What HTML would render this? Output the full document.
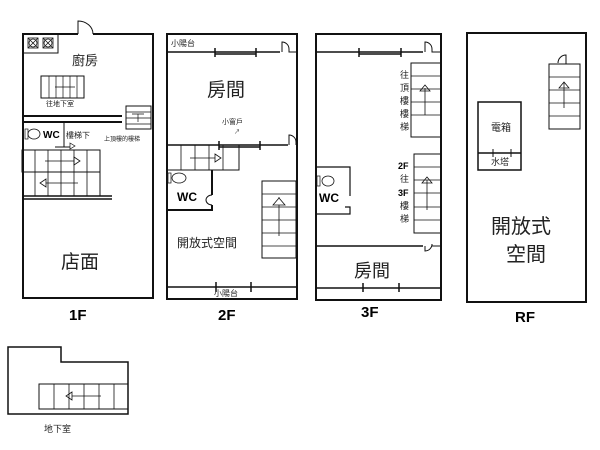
<!DOCTYPE html>
<html><head><meta charset="utf-8"><style>
html,body{margin:0;padding:0;background:#fff}
svg{display:block}
text{font-family:"Liberation Sans","Noto Sans CJK TC",sans-serif;fill:#222}
.b{font-weight:bold;fill:#000}
</style></head><body>
<svg width="600" height="450" viewBox="0 0 600 450" xmlns="http://www.w3.org/2000/svg" fill="none" stroke="#111" stroke-width="1">
<!-- 1F -->
<g>
<path d="M78 34 H23 V298 H153 V34 H93" stroke-width="2"/>
<path d="M78 34 V21 A15 13 0 0 1 93 34" />
<rect x="23" y="34" width="35" height="19"/>
<g stroke-width="0.8"><rect x="28" y="38" width="10" height="10"/><path d="M28 38 L38 48 M38 38 L28 48"/><circle cx="33" cy="43" r="4"/>
<rect x="43" y="38" width="10" height="10"/><path d="M43 38 L53 48 M53 38 L43 48"/><circle cx="48" cy="43" r="4"/></g>
<text x="72" y="65" font-size="13" stroke="none">廚房</text>
<rect x="41" y="76" width="43" height="22"/>
<path d="M49 76 V98 M56 76 V98 M63 76 V98 M70 76 V98 M77 76 V98 M55 87 H75" stroke-width="0.7"/>
<text x="46" y="106" font-size="7" stroke="none">往地下室</text>
<path d="M23 116 H122 M23 122 H122" stroke-width="2"/>
<rect x="126" y="106" width="25" height="23"/>
<path d="M126 112 H151 M126 118 H151 M126 124 H151 M132 114 H144 M138 114 V122" stroke-width="0.7"/>
<text x="104" y="141" font-size="6" stroke="none">上頂樓的樓梯</text>
<path d="M64 122 V147 M55 147 H70" />
<path d="M70 143 l5 3 l-5 3z" stroke-width="0.7"/>
<rect x="25" y="129" width="3" height="10" stroke-width="0.7"/><ellipse cx="34" cy="134" rx="6" ry="5" stroke-width="0.8"/>
<text x="43" y="138" font-size="10" class="b" stroke="none">WC</text>
<text x="66" y="138" font-size="8" stroke="none">樓梯下</text>
<rect x="22" y="150" width="78" height="22"/><rect x="23" y="172" width="77" height="24"/>
<path d="M35 150 V172 M48 150 V172 M61 150 V172 M74 150 V172 M87 150 V172 M35 172 V196 M48 172 V196 M61 172 V196 M74 172 V196 M87 172 V196" stroke-width="0.8"/>
<path d="M45 161 H74 M78 183 H46" stroke-width="0.8"/><path d="M74 157 l6 4 l-6 4z M46 179 l-6 4 l6 4z" stroke-width="0.8"/>
<path d="M23 196 H112 M23 199 H112" stroke-width="1.5"/>
<text x="61" y="268" font-size="19" stroke="none">店面</text>
<text x="69" y="320" font-size="15" class="b" stroke="none">1F</text>
</g>
<!-- 2F -->
<g>
<rect x="167" y="34" width="130" height="265" stroke-width="2"/>
<path d="M167 52 H280 M167 145 H288" stroke-width="1.5"/>
<path d="M215 48 V57 M256 48 V57 M215 54 H256 M219 141 V150 M260 141 V150 M219 147 H260" stroke-width="1.5"/>
<path d="M282 52 V42 A7 7 0 0 1 289 49 V52 H297 M289 145 V135 A7 7 0 0 1 296 142 V145" stroke-width="1"/>
<text x="171" y="46" font-size="8" stroke="none">小陽台</text>
<text x="207" y="96" font-size="19" stroke="none">房間</text>
<text x="222" y="124" font-size="7" stroke="none">小窗戶</text>
<text x="234" y="134" font-size="6" stroke="none">↗</text>
<rect x="167" y="145" width="72" height="25"/>
<path d="M181 145 V170 M195 145 V170 M209 145 V170 M223 145 V170 M190 158 H215" stroke-width="0.8"/><path d="M215 154 l6 4 l-6 4z" stroke-width="0.8"/>
<path d="M212 170 V195 M212 205 V210 H167" stroke-width="2"/><path d="M212 195 A6 5 0 0 0 212 205" stroke-width="1"/>
<rect x="168" y="173" width="3" height="10" stroke-width="0.7"/><ellipse cx="179" cy="178" rx="7" ry="5" stroke-width="0.8"/>
<text x="177" y="201" font-size="12" class="b" stroke="none">WC</text>
<rect x="262" y="181" width="34" height="77"/>
<path d="M262 194 H296 M262 207 H296 M262 220 H296 M262 233 H296 M262 246 H296 M279 197 V236" stroke-width="0.8"/><path d="M273 205 l6 -7 l6 7z" stroke-width="0.8" fill="#fff"/>
<text x="177" y="247" font-size="12" stroke="none" fill="#444">開放式空間</text>
<path d="M167 287 H297" stroke-width="1.5"/><path d="M216 282 V292 M251 282 V292" stroke-width="1.5"/>
<text x="214" y="296" font-size="8" stroke="none">小陽台</text>
<text x="218" y="320" font-size="15" class="b" stroke="none">2F</text>
</g>
<!-- 3F -->
<g>
<rect x="316" y="34" width="125" height="266" stroke-width="2"/>
<path d="M316 52 H423 M316 246 H423" stroke-width="1.5"/>
<path d="M359 48 V57 M401 48 V57 M359 54 H401" stroke-width="1.5"/>
<path d="M425 52 V42 A7 7 0 0 1 432 49 V52 H441 M425 246 V251 A7 7 0 0 0 432 244 V246 H441" stroke-width="1"/>
<rect x="411" y="63" width="30" height="74"/>
<path d="M411 76 H441 M411 89 H441 M411 102 H441 M411 115 H441 M425 88 V115" stroke-width="0.8"/><path d="M420 91 l5 -6 l5 6z" stroke-width="0.8"/>
<g font-size="9" stroke="none"><text x="400" y="78">往</text><text x="400" y="91">頂</text><text x="400" y="104">樓</text><text x="400" y="117">樓</text><text x="400" y="130">梯</text></g>
<rect x="414" y="154" width="27" height="79"/>
<path d="M414 167 H441 M414 180 H441 M414 193 H441 M414 207 H441 M414 220 H441 M427 180 V210" stroke-width="0.8"/><path d="M422 183 l5 -6 l5 6z" stroke-width="0.8"/>
<g font-size="9" stroke="none"><text x="398" y="169" class="b">2F</text><text x="400" y="182">往</text><text x="398" y="196" class="b">3F</text><text x="400" y="209">樓</text><text x="400" y="222">梯</text></g>
<path d="M316 167 H350 V196 M316 214 H350 V207 H345" stroke-width="1.2"/>
<rect x="317" y="176" width="3" height="10" stroke-width="0.7"/><ellipse cx="328" cy="181" rx="6" ry="5" stroke-width="0.8"/>
<text x="319" y="202" font-size="12" class="b" stroke="none">WC</text>
<text x="354" y="277" font-size="18" stroke="none">房間</text>
<path d="M316 288 H441" stroke-width="1.5"/><path d="M363 283 V292 M399 283 V292" stroke-width="1.5"/>
<text x="361" y="317" font-size="15" class="b" stroke="none">3F</text>
</g>
<!-- RF -->
<g>
<rect x="467" y="33" width="119" height="269" stroke-width="2"/>
<rect x="549" y="64" width="31" height="65"/>
<path d="M549 77 H580 M549 90 H580 M549 103 H580 M549 116 H580 M564 82 V108" stroke-width="0.8"/><path d="M559 88 l5 -6 l5 6z" stroke-width="0.8"/>
<path d="M566 64 V55 A8 8 0 0 0 558 63" stroke-width="1"/>
<rect x="478" y="102" width="43" height="68" stroke-width="1.5"/>
<path d="M478 153 H521" stroke-width="1.5"/><path d="M493 149 V157 M511 149 V157" stroke-width="1"/>
<text x="491" y="131" font-size="10" stroke="none">電箱</text>
<text x="491" y="165" font-size="9" stroke="none">水塔</text>
<text x="491" y="233" font-size="20" stroke="none" fill="#333">開放式</text>
<text x="506" y="261" font-size="20" stroke="none" fill="#333">空間</text>
<text x="515" y="322" font-size="15" class="b" stroke="none">RF</text>
</g>
<!-- B1 -->
<g>
<path d="M8 414 V347 H61 V362 H128 V414 Z" stroke-width="1.5"/>
<rect x="39" y="384" width="89" height="25"/>
<path d="M54 384 V409 M69 384 V409 M84 384 V409 M99 384 V409 M114 384 V409 M72 396 H101" stroke-width="0.8"/><path d="M72 392 l-6 4 l6 4z" stroke-width="0.8"/>
<text x="44" y="432" font-size="9" stroke="none">地下室</text>
</g>
</svg>
</body></html>
